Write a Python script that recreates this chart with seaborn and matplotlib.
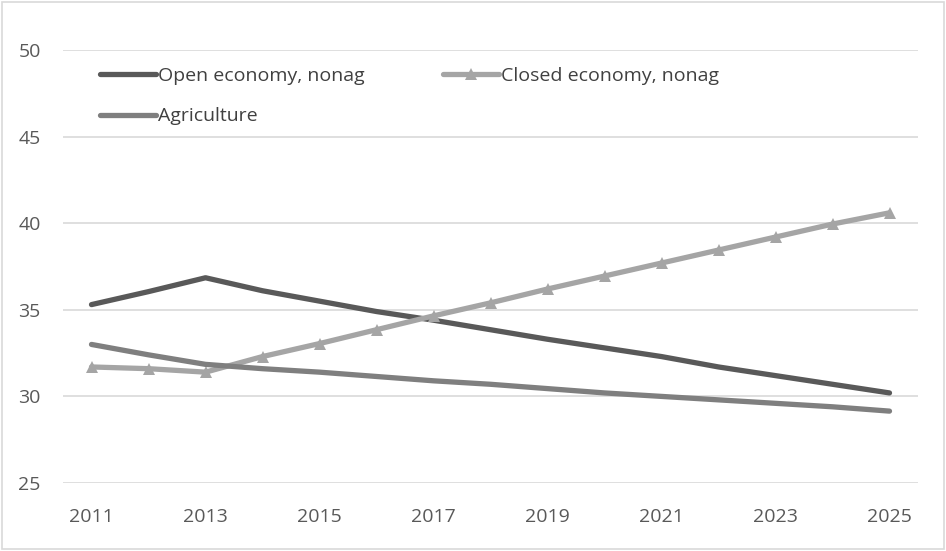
import matplotlib
matplotlib.use("Agg")
import matplotlib.pyplot as plt
from matplotlib.patches import Rectangle
import numpy as np
import pandas as pd
import seaborn as sns

years = list(range(2011, 2026))
open_nonag = [35.3, 36.05, 36.85, 36.1, 35.5, 34.9, 34.4, 33.85, 33.3, 32.8, 32.3, 31.7, 31.2, 30.7, 30.2]
closed_nonag = [31.7, 31.6, 31.4, 32.3, 33.05, 33.85, 34.65, 35.4, 36.2, 36.95, 37.7, 38.45, 39.2, 39.95, 40.6]
agriculture = [33.0, 32.4, 31.85, 31.6, 31.4, 31.15, 30.9, 30.7, 30.45, 30.2, 30.0, 29.8, 29.6, 29.4, 29.15]
series_names = ["Open economy, nonag", "Closed economy, nonag", "Agriculture"]
yticks = [25, 30, 35, 40, 45, 50]
xticks = [2011, 2013, 2015, 2017, 2019, 2021, 2023, 2025]

df = pd.DataFrame({
    "year": years * 3,
    "value": open_nonag + closed_nonag + agriculture,
    "series": [n for n in series_names for _ in years],
})

sns.set_theme(style="white")
plt.rcParams["font.family"] = ["Open Sans", "DejaVu Sans"]

fig = plt.figure(figsize=(9.46, 5.51), dpi=100)
ax = fig.add_axes([63 / 946, 1 - 483 / 551, (918 - 63) / 946, (483 - 50) / 551])

styles = {
    "Open economy, nonag": dict(color="#595959", marker=None),
    "Closed economy, nonag": dict(color="#a5a5a5", marker="^"),
    "Agriculture": dict(color="#7f7f7f", marker=None),
}
for name in series_names:
    st = styles[name]
    kw = dict(marker=st["marker"], markersize=8, markeredgewidth=0,
              markerfacecolor=st["color"]) if st["marker"] else {}
    sns.lineplot(data=df[df["series"] == name], x="year", y="value", ax=ax,
                 color=st["color"], linewidth=3.8, label=name,
                 solid_capstyle="round", solid_joinstyle="round", **kw)

ax.set_xlim(2010.5, 2025.5)
ax.set_ylim(25, 50)
ax.set_yticks(yticks)
ax.set_xticks(xticks)
ax.set_xticklabels([str(x) for x in xticks])
ax.set_xlabel("")
ax.set_ylabel("")
ax.grid(axis="y", color="#d9d9d9", linewidth=1.2)
ax.grid(axis="x", visible=False)
for s in ax.spines.values():
    s.set_visible(False)
ax.tick_params(axis="both", length=0, labelsize=14, colors="#595959")
ax.tick_params(axis="y", pad=16)
ax.tick_params(axis="x", pad=18)

# legend filled column by column: put entries so rows read Open/Closed, then Agriculture
handles, labels = ax.get_legend_handles_labels()
order = [0, 2, 1]
ax.legend([handles[i] for i in order], [labels[i] for i in order], ncol=2,
          loc="upper left",
          bbox_to_anchor=(100 / 946, 1 - 67 / 551), bbox_transform=fig.transFigure,
          frameon=False, fontsize=14, labelcolor="#404040",
          handlelength=2.9, handletextpad=0.1, columnspacing=4.0,
          labelspacing=1.15, borderpad=0, borderaxespad=0)

fig.patches.append(Rectangle((2 / 946, 2 / 551), 942 / 946, 547 / 551,
                             transform=fig.transFigure, fill=False,
                             edgecolor="#d9d9d9", linewidth=1.2))

fig.savefig("out.png", dpi=100)
